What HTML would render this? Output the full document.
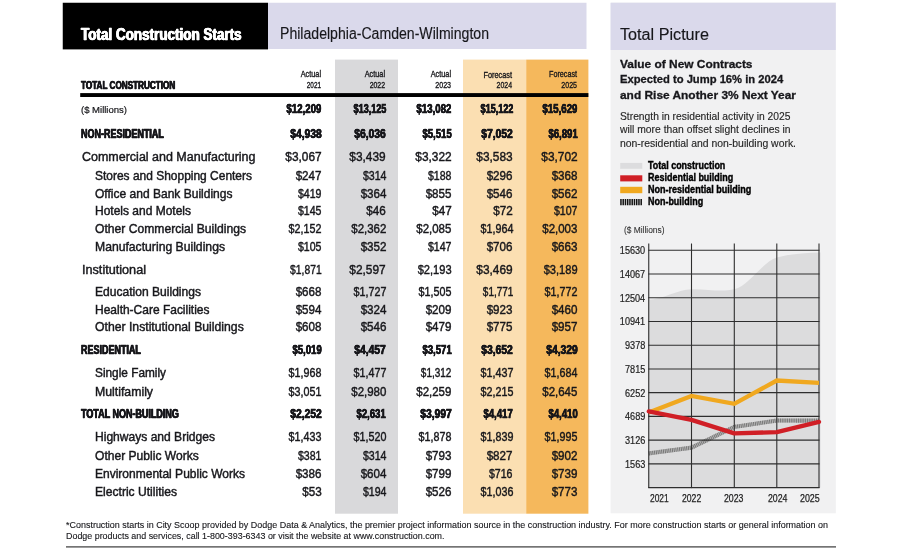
<!DOCTYPE html>
<html lang="en"><head><meta charset="utf-8"><title>Total Construction Starts - Philadelphia-Camden-Wilmington</title>
<style>
html,body{margin:0;padding:0;background:#fff}
#page{position:relative;width:900px;height:550px;overflow:hidden;background:#fff;font-family:"Liberation Sans", Arial, sans-serif;color:#17171b}
.layer{position:absolute;left:0;top:0}
.t{position:absolute;white-space:nowrap;line-height:1;margin:0;padding:0}
.l{transform-origin:0 50%}
.r{transform-origin:100% 50%}
</style></head>
<body><div id="page">
<svg class="layer" width="900" height="550" viewBox="0 0 900 550">
<rect x="62.75" y="2.75" width="205.25" height="46.65" fill="#000"/>
<rect x="268" y="2.75" width="318.50" height="46.25" fill="#dad9eb"/>
<rect x="610.6" y="2.7" width="225.20" height="510.60" fill="#f1f1f2"/>
<rect x="610.6" y="2.7" width="225.20" height="47.30" fill="#dad9eb"/>
<rect x="335.0" y="59.6" width="63.00" height="454.10" fill="#d9d9db"/>
<rect x="463.0" y="59.6" width="63.20" height="454.10" fill="#fbdfb2"/>
<rect x="526.2" y="59.6" width="62.20" height="454.10" fill="#f5b85c"/>
<rect x="80.2" y="93.1" width="508.20" height="3.90" fill="#000"/>
<rect x="66" y="546.3" width="770.00" height="1.20" fill="#3a3a3a"/>
<rect x="620.2" y="162.9" width="22.10" height="5.90" fill="#dcdcde"/>
<rect x="620.2" y="175.3" width="22.10" height="6.10" fill="#d01f26"/>
<rect x="620.2" y="186.8" width="22.10" height="6.40" fill="#f0a81f"/>
<line x1="620.2" y1="202.05" x2="642.3" y2="202.05" stroke="#111" stroke-width="6.3" stroke-dasharray="1.5 0.75"/>
</svg>
<svg class="layer" width="900" height="550" viewBox="0 0 900 550">
<path d="M648.25,299.80 C662.67,299.37 677.08,289.78 691.50,289.20 C705.77,288.63 720.03,292.44 734.30,289.30 C748.47,286.18 762.63,261.85 776.80,257.60 C791.37,253.23 805.93,252.98 820.50,252.40 L820.50,487.60 L648.25,487.60 Z" fill="#dcdcdd"/>
<polyline points="648.75,453.40 691.50,447.65 734.30,426.90 776.80,420.53 819.00,420.63" fill="none" stroke="#bdbdbd" stroke-width="4.1"/>
<polyline points="648.75,453.40 691.50,447.65 734.30,426.90 776.80,420.53 819.00,420.63" fill="none" stroke="#767676" stroke-width="4.1" stroke-dasharray="1 0.8"/>
<line x1="648.25" y1="250.25" x2="819.5" y2="250.25" stroke="#2e2e2e" stroke-width="1.1"/>
<line x1="648.25" y1="273.99" x2="819.5" y2="273.99" stroke="#2e2e2e" stroke-width="1.1"/>
<line x1="648.25" y1="297.72" x2="819.5" y2="297.72" stroke="#2e2e2e" stroke-width="1.1"/>
<line x1="648.25" y1="321.45" x2="819.5" y2="321.45" stroke="#2e2e2e" stroke-width="1.1"/>
<line x1="648.25" y1="345.19" x2="819.5" y2="345.19" stroke="#2e2e2e" stroke-width="1.1"/>
<line x1="648.25" y1="368.93" x2="819.5" y2="368.93" stroke="#2e2e2e" stroke-width="1.1"/>
<line x1="648.25" y1="392.66" x2="819.5" y2="392.66" stroke="#2e2e2e" stroke-width="1.1"/>
<line x1="648.25" y1="416.39" x2="819.5" y2="416.39" stroke="#2e2e2e" stroke-width="1.1"/>
<line x1="648.25" y1="440.13" x2="819.5" y2="440.13" stroke="#2e2e2e" stroke-width="1.1"/>
<line x1="648.25" y1="463.87" x2="819.5" y2="463.87" stroke="#2e2e2e" stroke-width="1.1"/>
<line x1="648.25" y1="487.60" x2="819.5" y2="487.60" stroke="#2e2e2e" stroke-width="1.1"/>
<line x1="648.75" y1="243.5" x2="648.75" y2="488.10" stroke="#2e2e2e" stroke-width="1.1"/>
<line x1="691.5" y1="243.5" x2="691.5" y2="488.10" stroke="#2e2e2e" stroke-width="1.1"/>
<line x1="734.3" y1="243.5" x2="734.3" y2="488.10" stroke="#2e2e2e" stroke-width="1.1"/>
<line x1="776.8" y1="243.5" x2="776.8" y2="488.10" stroke="#2e2e2e" stroke-width="1.1"/>
<line x1="819.0" y1="243.5" x2="819.0" y2="488.10" stroke="#2e2e2e" stroke-width="1.1"/>
<polyline points="648.75,412.61 691.50,395.94 734.30,403.85 776.80,380.51 819.00,382.96" fill="none" stroke="#f0a81f" stroke-width="4.3" stroke-linejoin="miter"/>
<polyline points="648.75,411.38 691.50,419.92 734.30,433.37 776.80,432.14 819.00,421.86" fill="none" stroke="#d01f26" stroke-width="4.3" stroke-linejoin="round" stroke-linecap="round"/>
</svg>
<span class="t l" style="font-size:16.2px;top:25.90px;font-weight:bold;color:#fff;left:81.30px;-webkit-text-stroke:0.45px;text-shadow:0.5px 0 0 currentColor,-0.5px 0 0 currentColor;transform:scaleX(0.8319)">Total Construction Starts</span>
<span class="t l" style="font-size:15.6px;top:25.51px;left:279.60px;-webkit-text-stroke:0.15px;transform:scaleX(0.9031)">Philadelphia-Camden-Wilmington</span>
<span class="t l" style="font-size:15.8px;top:26.61px;left:620.40px;-webkit-text-stroke:0.15px;transform:scaleX(1.0239)">Total Picture</span>
<span class="t r" style="font-size:9px;top:70.40px;right:579.10px;-webkit-text-stroke:0.35px;transform:scaleX(0.8115)">Actual</span>
<span class="t r" style="font-size:9px;top:80.70px;right:579.10px;-webkit-text-stroke:0.35px;transform:scaleX(0.7114)">2021</span>
<span class="t r" style="font-size:9px;top:70.40px;right:514.60px;-webkit-text-stroke:0.35px;transform:scaleX(0.8115)">Actual</span>
<span class="t r" style="font-size:9px;top:80.70px;right:514.60px;-webkit-text-stroke:0.35px;transform:scaleX(0.7688)">2022</span>
<span class="t r" style="font-size:9px;top:70.40px;right:449.30px;-webkit-text-stroke:0.35px;transform:scaleX(0.8115)">Actual</span>
<span class="t r" style="font-size:9px;top:80.70px;right:449.30px;-webkit-text-stroke:0.35px;transform:scaleX(0.7888)">2023</span>
<span class="t r" style="font-size:9px;top:71.11px;right:387.80px;-webkit-text-stroke:0.35px;transform:scaleX(0.8139)">Forecast</span>
<span class="t r" style="font-size:9px;top:81.40px;right:387.80px;-webkit-text-stroke:0.35px;transform:scaleX(0.7738)">2024</span>
<span class="t r" style="font-size:9px;top:70.40px;right:323.30px;-webkit-text-stroke:0.35px;transform:scaleX(0.7996)">Forecast</span>
<span class="t r" style="font-size:9px;top:80.70px;right:323.30px;-webkit-text-stroke:0.35px;transform:scaleX(0.7863)">2025</span>
<span class="t l" style="font-size:10.6px;top:80.01px;font-weight:bold;left:81.25px;-webkit-text-stroke:0.4px;text-shadow:0.4px 0 0 currentColor,-0.4px 0 0 currentColor;transform:scaleX(0.7699)">TOTAL CONSTRUCTION</span>
<span class="t l" style="font-size:9.4px;top:105.01px;left:81.40px;-webkit-text-stroke:0.2px;transform:scaleX(1.0148)">($ Millions)</span>
<span class="t r" style="font-size:12px;top:103.31px;font-weight:bold;right:578.40px;-webkit-text-stroke:0.5px;text-shadow:0.15px 0 0 currentColor,-0.15px 0 0 currentColor;transform:scaleX(0.8055)">$12,209</span>
<span class="t r" style="font-size:12px;top:103.31px;font-weight:bold;right:513.90px;-webkit-text-stroke:0.5px;text-shadow:0.15px 0 0 currentColor,-0.15px 0 0 currentColor;transform:scaleX(0.7559)">$13,125</span>
<span class="t r" style="font-size:12px;top:103.31px;font-weight:bold;right:448.60px;-webkit-text-stroke:0.5px;text-shadow:0.15px 0 0 currentColor,-0.15px 0 0 currentColor;transform:scaleX(0.8055)">$13,082</span>
<span class="t r" style="font-size:12px;top:103.31px;font-weight:bold;right:387.10px;-webkit-text-stroke:0.5px;text-shadow:0.15px 0 0 currentColor,-0.15px 0 0 currentColor;transform:scaleX(0.7559)">$15,122</span>
<span class="t r" style="font-size:12px;top:103.31px;font-weight:bold;right:322.60px;-webkit-text-stroke:0.5px;text-shadow:0.15px 0 0 currentColor,-0.15px 0 0 currentColor;transform:scaleX(0.8055)">$15,629</span>
<span class="t l" style="font-size:12px;top:128.11px;font-weight:bold;left:80.80px;-webkit-text-stroke:0.4px;text-shadow:0.4px 0 0 currentColor,-0.4px 0 0 currentColor;transform:scaleX(0.7486)">NON-RESIDENTIAL</span>
<span class="t r" style="font-size:12px;top:128.11px;font-weight:bold;right:578.40px;-webkit-text-stroke:0.5px;text-shadow:0.15px 0 0 currentColor,-0.15px 0 0 currentColor;transform:scaleX(0.8542)">$4,938</span>
<span class="t r" style="font-size:12px;top:128.11px;font-weight:bold;right:513.90px;-webkit-text-stroke:0.5px;text-shadow:0.15px 0 0 currentColor,-0.15px 0 0 currentColor;transform:scaleX(0.8542)">$6,036</span>
<span class="t r" style="font-size:12px;top:128.11px;font-weight:bold;right:448.60px;-webkit-text-stroke:0.5px;text-shadow:0.15px 0 0 currentColor,-0.15px 0 0 currentColor;transform:scaleX(0.7956)">$5,515</span>
<span class="t r" style="font-size:12px;top:128.11px;font-weight:bold;right:387.10px;-webkit-text-stroke:0.5px;text-shadow:0.15px 0 0 currentColor,-0.15px 0 0 currentColor;transform:scaleX(0.8542)">$7,052</span>
<span class="t r" style="font-size:12px;top:128.11px;font-weight:bold;right:322.60px;-webkit-text-stroke:0.5px;text-shadow:0.15px 0 0 currentColor,-0.15px 0 0 currentColor;transform:scaleX(0.7956)">$6,891</span>
<span class="t l" style="font-size:12.3px;top:150.76px;left:81.50px;-webkit-text-stroke:0.42px;transform:scaleX(1.0154)">Commercial and Manufacturing</span>
<span class="t r" style="font-size:12.3px;top:150.62px;right:578.40px;-webkit-text-stroke:0.42px;transform:scaleX(0.9655)">$3,067</span>
<span class="t r" style="font-size:12.3px;top:150.62px;right:513.90px;-webkit-text-stroke:0.42px;transform:scaleX(0.9655)">$3,439</span>
<span class="t r" style="font-size:12.3px;top:150.62px;right:448.60px;-webkit-text-stroke:0.42px;transform:scaleX(0.9655)">$3,322</span>
<span class="t r" style="font-size:12.3px;top:150.62px;right:387.10px;-webkit-text-stroke:0.42px;transform:scaleX(0.9655)">$3,583</span>
<span class="t r" style="font-size:12.3px;top:150.62px;right:322.60px;-webkit-text-stroke:0.42px;transform:scaleX(0.9655)">$3,702</span>
<span class="t l" style="font-size:11.9px;top:170.51px;left:95.00px;-webkit-text-stroke:0.42px;transform:scaleX(1.0063)">Stores and Shopping Centers</span>
<span class="t r" style="font-size:11.9px;top:170.51px;right:578.40px;-webkit-text-stroke:0.42px;transform:scaleX(0.9753)">$247</span>
<span class="t r" style="font-size:11.9px;top:170.51px;right:513.90px;-webkit-text-stroke:0.42px;transform:scaleX(0.8884)">$314</span>
<span class="t r" style="font-size:11.9px;top:170.51px;right:448.60px;-webkit-text-stroke:0.42px;transform:scaleX(0.8884)">$188</span>
<span class="t r" style="font-size:11.9px;top:170.51px;right:387.10px;-webkit-text-stroke:0.42px;transform:scaleX(0.9753)">$296</span>
<span class="t r" style="font-size:11.9px;top:170.51px;right:322.60px;-webkit-text-stroke:0.42px;transform:scaleX(0.9753)">$368</span>
<span class="t l" style="font-size:11.9px;top:188.51px;left:95.00px;-webkit-text-stroke:0.42px;transform:scaleX(1.0114)">Office and Bank Buildings</span>
<span class="t r" style="font-size:11.9px;top:188.51px;right:578.40px;-webkit-text-stroke:0.42px;transform:scaleX(0.8884)">$419</span>
<span class="t r" style="font-size:11.9px;top:188.51px;right:513.90px;-webkit-text-stroke:0.42px;transform:scaleX(0.9753)">$364</span>
<span class="t r" style="font-size:11.9px;top:188.51px;right:448.60px;-webkit-text-stroke:0.42px;transform:scaleX(0.9753)">$855</span>
<span class="t r" style="font-size:11.9px;top:188.51px;right:387.10px;-webkit-text-stroke:0.42px;transform:scaleX(0.9753)">$546</span>
<span class="t r" style="font-size:11.9px;top:188.51px;right:322.60px;-webkit-text-stroke:0.42px;transform:scaleX(0.9753)">$562</span>
<span class="t l" style="font-size:11.9px;top:206.01px;left:95.00px;-webkit-text-stroke:0.42px;transform:scaleX(1.0087)">Hotels and Motels</span>
<span class="t r" style="font-size:11.9px;top:206.01px;right:578.40px;-webkit-text-stroke:0.42px;transform:scaleX(0.8884)">$145</span>
<span class="t r" style="font-size:11.9px;top:206.01px;right:513.90px;-webkit-text-stroke:0.42px;transform:scaleX(0.9827)">$46</span>
<span class="t r" style="font-size:11.9px;top:206.01px;right:448.60px;-webkit-text-stroke:0.42px;transform:scaleX(0.9827)">$47</span>
<span class="t r" style="font-size:11.9px;top:206.01px;right:387.10px;-webkit-text-stroke:0.42px;transform:scaleX(0.9827)">$72</span>
<span class="t r" style="font-size:11.9px;top:206.01px;right:322.60px;-webkit-text-stroke:0.42px;transform:scaleX(0.8884)">$107</span>
<span class="t l" style="font-size:11.9px;top:224.01px;left:95.00px;-webkit-text-stroke:0.42px;transform:scaleX(1.0201)">Other Commercial Buildings</span>
<span class="t r" style="font-size:11.9px;top:224.01px;right:578.40px;-webkit-text-stroke:0.42px;transform:scaleX(0.9017)">$2,152</span>
<span class="t r" style="font-size:11.9px;top:224.01px;right:513.90px;-webkit-text-stroke:0.42px;transform:scaleX(0.9649)">$2,362</span>
<span class="t r" style="font-size:11.9px;top:224.01px;right:448.60px;-webkit-text-stroke:0.42px;transform:scaleX(0.9649)">$2,085</span>
<span class="t r" style="font-size:11.9px;top:224.01px;right:387.10px;-webkit-text-stroke:0.42px;transform:scaleX(0.9017)">$1,964</span>
<span class="t r" style="font-size:11.9px;top:224.01px;right:322.60px;-webkit-text-stroke:0.42px;transform:scaleX(0.9649)">$2,003</span>
<span class="t l" style="font-size:11.9px;top:241.76px;left:95.00px;-webkit-text-stroke:0.42px;transform:scaleX(1.0243)">Manufacturing Buildings</span>
<span class="t r" style="font-size:11.9px;top:241.76px;right:578.40px;-webkit-text-stroke:0.42px;transform:scaleX(0.8884)">$105</span>
<span class="t r" style="font-size:11.9px;top:241.76px;right:513.90px;-webkit-text-stroke:0.42px;transform:scaleX(0.9753)">$352</span>
<span class="t r" style="font-size:11.9px;top:241.76px;right:448.60px;-webkit-text-stroke:0.42px;transform:scaleX(0.8884)">$147</span>
<span class="t r" style="font-size:11.9px;top:241.76px;right:387.10px;-webkit-text-stroke:0.42px;transform:scaleX(0.9753)">$706</span>
<span class="t r" style="font-size:11.9px;top:241.76px;right:322.60px;-webkit-text-stroke:0.42px;transform:scaleX(0.9753)">$663</span>
<span class="t l" style="font-size:12.3px;top:263.75px;left:81.50px;-webkit-text-stroke:0.42px;transform:scaleX(1.0286)">Institutional</span>
<span class="t r" style="font-size:12.3px;top:263.75px;right:578.40px;-webkit-text-stroke:0.42px;transform:scaleX(0.8390)">$1,871</span>
<span class="t r" style="font-size:12.3px;top:263.75px;right:513.90px;-webkit-text-stroke:0.42px;transform:scaleX(0.9655)">$2,597</span>
<span class="t r" style="font-size:12.3px;top:263.75px;right:448.60px;-webkit-text-stroke:0.42px;transform:scaleX(0.9023)">$2,193</span>
<span class="t r" style="font-size:12.3px;top:263.75px;right:387.10px;-webkit-text-stroke:0.42px;transform:scaleX(0.9655)">$3,469</span>
<span class="t r" style="font-size:12.3px;top:263.75px;right:322.60px;-webkit-text-stroke:0.42px;transform:scaleX(0.9023)">$3,189</span>
<span class="t l" style="font-size:11.9px;top:287.26px;left:95.00px;-webkit-text-stroke:0.42px;transform:scaleX(1.0148)">Education Buildings</span>
<span class="t r" style="font-size:11.9px;top:287.26px;right:578.40px;-webkit-text-stroke:0.42px;transform:scaleX(0.9753)">$668</span>
<span class="t r" style="font-size:11.9px;top:287.26px;right:513.90px;-webkit-text-stroke:0.42px;transform:scaleX(0.9017)">$1,727</span>
<span class="t r" style="font-size:11.9px;top:287.26px;right:448.60px;-webkit-text-stroke:0.42px;transform:scaleX(0.9017)">$1,505</span>
<span class="t r" style="font-size:11.9px;top:287.26px;right:387.10px;-webkit-text-stroke:0.42px;transform:scaleX(0.8385)">$1,771</span>
<span class="t r" style="font-size:11.9px;top:287.26px;right:322.60px;-webkit-text-stroke:0.42px;transform:scaleX(0.9017)">$1,772</span>
<span class="t l" style="font-size:11.9px;top:304.51px;left:95.00px;-webkit-text-stroke:0.42px;transform:scaleX(1.0073)">Health-Care Facilities</span>
<span class="t r" style="font-size:11.9px;top:304.51px;right:578.40px;-webkit-text-stroke:0.42px;transform:scaleX(0.9753)">$594</span>
<span class="t r" style="font-size:11.9px;top:304.51px;right:513.90px;-webkit-text-stroke:0.42px;transform:scaleX(0.9753)">$324</span>
<span class="t r" style="font-size:11.9px;top:304.51px;right:448.60px;-webkit-text-stroke:0.42px;transform:scaleX(0.9753)">$209</span>
<span class="t r" style="font-size:11.9px;top:304.51px;right:387.10px;-webkit-text-stroke:0.42px;transform:scaleX(0.9753)">$923</span>
<span class="t r" style="font-size:11.9px;top:304.51px;right:322.60px;-webkit-text-stroke:0.42px;transform:scaleX(0.9753)">$460</span>
<span class="t l" style="font-size:11.9px;top:322.01px;left:95.00px;-webkit-text-stroke:0.42px;transform:scaleX(1.0276)">Other Institutional Buildings</span>
<span class="t r" style="font-size:11.9px;top:322.01px;right:578.40px;-webkit-text-stroke:0.42px;transform:scaleX(0.9753)">$608</span>
<span class="t r" style="font-size:11.9px;top:322.01px;right:513.90px;-webkit-text-stroke:0.42px;transform:scaleX(0.9753)">$546</span>
<span class="t r" style="font-size:11.9px;top:322.01px;right:448.60px;-webkit-text-stroke:0.42px;transform:scaleX(0.9753)">$479</span>
<span class="t r" style="font-size:11.9px;top:322.01px;right:387.10px;-webkit-text-stroke:0.42px;transform:scaleX(0.9753)">$775</span>
<span class="t r" style="font-size:11.9px;top:322.01px;right:322.60px;-webkit-text-stroke:0.42px;transform:scaleX(0.9753)">$957</span>
<span class="t l" style="font-size:12px;top:343.86px;font-weight:bold;left:80.80px;-webkit-text-stroke:0.4px;text-shadow:0.4px 0 0 currentColor,-0.4px 0 0 currentColor;transform:scaleX(0.7480)">RESIDENTIAL</span>
<span class="t r" style="font-size:12px;top:343.86px;font-weight:bold;right:578.40px;-webkit-text-stroke:0.5px;text-shadow:0.15px 0 0 currentColor,-0.15px 0 0 currentColor;transform:scaleX(0.7956)">$5,019</span>
<span class="t r" style="font-size:12px;top:343.86px;font-weight:bold;right:513.90px;-webkit-text-stroke:0.5px;text-shadow:0.15px 0 0 currentColor,-0.15px 0 0 currentColor;transform:scaleX(0.8542)">$4,457</span>
<span class="t r" style="font-size:12px;top:343.86px;font-weight:bold;right:448.60px;-webkit-text-stroke:0.5px;text-shadow:0.15px 0 0 currentColor,-0.15px 0 0 currentColor;transform:scaleX(0.7956)">$3,571</span>
<span class="t r" style="font-size:12px;top:343.86px;font-weight:bold;right:387.10px;-webkit-text-stroke:0.5px;text-shadow:0.15px 0 0 currentColor,-0.15px 0 0 currentColor;transform:scaleX(0.8542)">$3,652</span>
<span class="t r" style="font-size:12px;top:343.86px;font-weight:bold;right:322.60px;-webkit-text-stroke:0.5px;text-shadow:0.15px 0 0 currentColor,-0.15px 0 0 currentColor;transform:scaleX(0.8542)">$4,329</span>
<span class="t l" style="font-size:11.9px;top:368.01px;left:95.00px;-webkit-text-stroke:0.42px;transform:scaleX(0.9947)">Single Family</span>
<span class="t r" style="font-size:11.9px;top:368.01px;right:578.40px;-webkit-text-stroke:0.42px;transform:scaleX(0.9017)">$1,968</span>
<span class="t r" style="font-size:11.9px;top:368.01px;right:513.90px;-webkit-text-stroke:0.42px;transform:scaleX(0.9017)">$1,477</span>
<span class="t r" style="font-size:11.9px;top:368.01px;right:448.60px;-webkit-text-stroke:0.42px;transform:scaleX(0.8385)">$1,312</span>
<span class="t r" style="font-size:11.9px;top:368.01px;right:387.10px;-webkit-text-stroke:0.42px;transform:scaleX(0.9017)">$1,437</span>
<span class="t r" style="font-size:11.9px;top:368.01px;right:322.60px;-webkit-text-stroke:0.42px;transform:scaleX(0.9017)">$1,684</span>
<span class="t l" style="font-size:11.9px;top:386.51px;left:95.00px;-webkit-text-stroke:0.42px;transform:scaleX(1.0328)">Multifamily</span>
<span class="t r" style="font-size:11.9px;top:386.51px;right:578.40px;-webkit-text-stroke:0.42px;transform:scaleX(0.9017)">$3,051</span>
<span class="t r" style="font-size:11.9px;top:386.51px;right:513.90px;-webkit-text-stroke:0.42px;transform:scaleX(0.9649)">$2,980</span>
<span class="t r" style="font-size:11.9px;top:386.51px;right:448.60px;-webkit-text-stroke:0.42px;transform:scaleX(0.9649)">$2,259</span>
<span class="t r" style="font-size:11.9px;top:386.51px;right:387.10px;-webkit-text-stroke:0.42px;transform:scaleX(0.9017)">$2,215</span>
<span class="t r" style="font-size:11.9px;top:386.51px;right:322.60px;-webkit-text-stroke:0.42px;transform:scaleX(0.9649)">$2,645</span>
<span class="t l" style="font-size:12px;top:408.36px;font-weight:bold;left:80.80px;-webkit-text-stroke:0.4px;text-shadow:0.4px 0 0 currentColor,-0.4px 0 0 currentColor;transform:scaleX(0.7488)">TOTAL NON-BUILDING</span>
<span class="t r" style="font-size:12px;top:408.36px;font-weight:bold;right:578.40px;-webkit-text-stroke:0.5px;text-shadow:0.15px 0 0 currentColor,-0.15px 0 0 currentColor;transform:scaleX(0.8542)">$2,252</span>
<span class="t r" style="font-size:12px;top:408.36px;font-weight:bold;right:513.90px;-webkit-text-stroke:0.5px;text-shadow:0.15px 0 0 currentColor,-0.15px 0 0 currentColor;transform:scaleX(0.7956)">$2,631</span>
<span class="t r" style="font-size:12px;top:408.36px;font-weight:bold;right:448.60px;-webkit-text-stroke:0.5px;text-shadow:0.15px 0 0 currentColor,-0.15px 0 0 currentColor;transform:scaleX(0.8542)">$3,997</span>
<span class="t r" style="font-size:12px;top:408.36px;font-weight:bold;right:387.10px;-webkit-text-stroke:0.5px;text-shadow:0.15px 0 0 currentColor,-0.15px 0 0 currentColor;transform:scaleX(0.7956)">$4,417</span>
<span class="t r" style="font-size:12px;top:408.36px;font-weight:bold;right:322.60px;-webkit-text-stroke:0.5px;text-shadow:0.15px 0 0 currentColor,-0.15px 0 0 currentColor;transform:scaleX(0.7956)">$4,410</span>
<span class="t l" style="font-size:11.9px;top:432.26px;left:95.00px;-webkit-text-stroke:0.42px;transform:scaleX(1.0143)">Highways and Bridges</span>
<span class="t r" style="font-size:11.9px;top:432.26px;right:578.40px;-webkit-text-stroke:0.42px;transform:scaleX(0.9017)">$1,433</span>
<span class="t r" style="font-size:11.9px;top:432.26px;right:513.90px;-webkit-text-stroke:0.42px;transform:scaleX(0.9017)">$1,520</span>
<span class="t r" style="font-size:11.9px;top:432.26px;right:448.60px;-webkit-text-stroke:0.42px;transform:scaleX(0.9017)">$1,878</span>
<span class="t r" style="font-size:11.9px;top:432.26px;right:387.10px;-webkit-text-stroke:0.42px;transform:scaleX(0.9017)">$1,839</span>
<span class="t r" style="font-size:11.9px;top:432.26px;right:322.60px;-webkit-text-stroke:0.42px;transform:scaleX(0.9017)">$1,995</span>
<span class="t l" style="font-size:11.9px;top:450.51px;left:95.00px;-webkit-text-stroke:0.42px;transform:scaleX(1.0151)">Other Public Works</span>
<span class="t r" style="font-size:11.9px;top:450.51px;right:578.40px;-webkit-text-stroke:0.42px;transform:scaleX(0.8884)">$381</span>
<span class="t r" style="font-size:11.9px;top:450.51px;right:513.90px;-webkit-text-stroke:0.42px;transform:scaleX(0.8884)">$314</span>
<span class="t r" style="font-size:11.9px;top:450.51px;right:448.60px;-webkit-text-stroke:0.42px;transform:scaleX(0.9753)">$793</span>
<span class="t r" style="font-size:11.9px;top:450.51px;right:387.10px;-webkit-text-stroke:0.42px;transform:scaleX(0.9753)">$827</span>
<span class="t r" style="font-size:11.9px;top:450.51px;right:322.60px;-webkit-text-stroke:0.42px;transform:scaleX(0.9753)">$902</span>
<span class="t l" style="font-size:11.9px;top:468.51px;left:95.00px;-webkit-text-stroke:0.42px;transform:scaleX(1.0102)">Environmental Public Works</span>
<span class="t r" style="font-size:11.9px;top:468.51px;right:578.40px;-webkit-text-stroke:0.42px;transform:scaleX(0.9753)">$386</span>
<span class="t r" style="font-size:11.9px;top:468.51px;right:513.90px;-webkit-text-stroke:0.42px;transform:scaleX(0.9753)">$604</span>
<span class="t r" style="font-size:11.9px;top:468.51px;right:448.60px;-webkit-text-stroke:0.42px;transform:scaleX(0.9753)">$799</span>
<span class="t r" style="font-size:11.9px;top:468.51px;right:387.10px;-webkit-text-stroke:0.42px;transform:scaleX(0.8884)">$716</span>
<span class="t r" style="font-size:11.9px;top:468.51px;right:322.60px;-webkit-text-stroke:0.42px;transform:scaleX(0.9753)">$739</span>
<span class="t l" style="font-size:11.9px;top:486.76px;left:95.00px;-webkit-text-stroke:0.42px;transform:scaleX(1.0173)">Electric Utilities</span>
<span class="t r" style="font-size:11.9px;top:486.76px;right:578.40px;-webkit-text-stroke:0.42px;transform:scaleX(0.9827)">$53</span>
<span class="t r" style="font-size:11.9px;top:486.76px;right:513.90px;-webkit-text-stroke:0.42px;transform:scaleX(0.8884)">$194</span>
<span class="t r" style="font-size:11.9px;top:486.76px;right:448.60px;-webkit-text-stroke:0.42px;transform:scaleX(0.9753)">$526</span>
<span class="t r" style="font-size:11.9px;top:486.76px;right:387.10px;-webkit-text-stroke:0.42px;transform:scaleX(0.9017)">$1,036</span>
<span class="t r" style="font-size:11.9px;top:486.76px;right:322.60px;-webkit-text-stroke:0.42px;transform:scaleX(0.9753)">$773</span>
<span class="t l" style="font-size:11.4px;top:58.71px;font-weight:bold;left:619.80px;-webkit-text-stroke:0.3px;transform:scaleX(1.0467)">Value of New Contracts</span>
<span class="t l" style="font-size:11.4px;top:74.41px;font-weight:bold;left:619.80px;-webkit-text-stroke:0.3px;transform:scaleX(0.9839)">Expected to Jump 16% in 2024</span>
<span class="t l" style="font-size:11.4px;top:90.10px;font-weight:bold;left:619.80px;-webkit-text-stroke:0.3px;transform:scaleX(1.0452)">and Rise Another 3% Next Year</span>
<span class="t l" style="font-size:11.1px;top:110.90px;color:#262626;left:619.90px;-webkit-text-stroke:0.15px;transform:scaleX(0.9272)">Strength in residential activity in 2025</span>
<span class="t l" style="font-size:11.1px;top:124.21px;color:#262626;left:619.90px;-webkit-text-stroke:0.15px;transform:scaleX(0.9320)">will more than offset slight declines in</span>
<span class="t l" style="font-size:11.1px;top:137.52px;color:#262626;left:619.90px;-webkit-text-stroke:0.15px;transform:scaleX(0.9387)">non-residential and non-building work.</span>
<span class="t l" style="font-size:10px;top:160.71px;font-weight:bold;color:#000;left:647.70px;-webkit-text-stroke:0.4px;transform:scaleX(0.8938)">Total construction</span>
<span class="t l" style="font-size:10px;top:172.71px;font-weight:bold;color:#000;left:647.70px;-webkit-text-stroke:0.4px;transform:scaleX(0.8977)">Residential building</span>
<span class="t l" style="font-size:10px;top:184.71px;font-weight:bold;color:#000;left:647.70px;-webkit-text-stroke:0.4px;transform:scaleX(0.9026)">Non-residential building</span>
<span class="t l" style="font-size:10px;top:196.71px;font-weight:bold;color:#000;left:647.70px;-webkit-text-stroke:0.4px;transform:scaleX(0.8953)">Non-building</span>
<span class="t l" style="font-size:8.5px;top:226.10px;color:#333;left:623.70px;-webkit-text-stroke:0.1px;transform:scaleX(0.9856)">($ Millions)</span>
<span class="t r" style="font-size:10.5px;top:245.16px;color:#222;right:255.00px;-webkit-text-stroke:0.2px;transform:scaleX(0.8700)">15630</span>
<span class="t r" style="font-size:10.5px;top:268.89px;color:#222;right:255.00px;-webkit-text-stroke:0.2px;transform:scaleX(0.8700)">14067</span>
<span class="t r" style="font-size:10.5px;top:292.63px;color:#222;right:255.00px;-webkit-text-stroke:0.2px;transform:scaleX(0.8700)">12504</span>
<span class="t r" style="font-size:10.5px;top:316.36px;color:#222;right:255.00px;-webkit-text-stroke:0.2px;transform:scaleX(0.8700)">10941</span>
<span class="t r" style="font-size:10.5px;top:340.10px;color:#222;right:255.00px;-webkit-text-stroke:0.2px;transform:scaleX(0.8700)">9378</span>
<span class="t r" style="font-size:10.5px;top:363.83px;color:#222;right:255.00px;-webkit-text-stroke:0.2px;transform:scaleX(0.8700)">7815</span>
<span class="t r" style="font-size:10.5px;top:387.57px;color:#222;right:255.00px;-webkit-text-stroke:0.2px;transform:scaleX(0.8700)">6252</span>
<span class="t r" style="font-size:10.5px;top:411.31px;color:#222;right:255.00px;-webkit-text-stroke:0.2px;transform:scaleX(0.8700)">4689</span>
<span class="t r" style="font-size:10.5px;top:435.04px;color:#222;right:255.00px;-webkit-text-stroke:0.2px;transform:scaleX(0.8700)">3126</span>
<span class="t r" style="font-size:10.5px;top:458.78px;color:#222;right:255.00px;-webkit-text-stroke:0.2px;transform:scaleX(0.8700)">1563</span>
<span class="t l" style="font-size:10.5px;top:492.76px;color:#222;left:649.50px;-webkit-text-stroke:0.25px;transform:scaleX(0.8027)">2021</span>
<span class="t l" style="font-size:10.5px;top:492.76px;color:#222;left:681.50px;-webkit-text-stroke:0.25px;transform:scaleX(0.8241)">2022</span>
<span class="t l" style="font-size:10.5px;top:492.76px;color:#222;left:723.75px;-webkit-text-stroke:0.25px;transform:scaleX(0.8348)">2023</span>
<span class="t l" style="font-size:10.5px;top:492.76px;color:#222;left:767.50px;-webkit-text-stroke:0.25px;transform:scaleX(0.8348)">2024</span>
<span class="t l" style="font-size:10.5px;top:492.76px;color:#222;left:800.25px;-webkit-text-stroke:0.25px;transform:scaleX(0.8455)">2025</span>
<span class="t l" style="font-size:9px;top:520.90px;left:66.00px;-webkit-text-stroke:0.12px;transform:scaleX(0.9958)">*Construction starts in City Scoop provided by Dodge Data &amp; Analytics, the premier project information source in the construction industry. For more construction starts or general information on</span>
<span class="t l" style="font-size:9px;top:532.01px;left:66.00px;-webkit-text-stroke:0.12px;transform:scaleX(0.9890)">Dodge products and services, call 1-800-393-6343 or visit the website at www.construction.com.</span>
</div></body></html>
